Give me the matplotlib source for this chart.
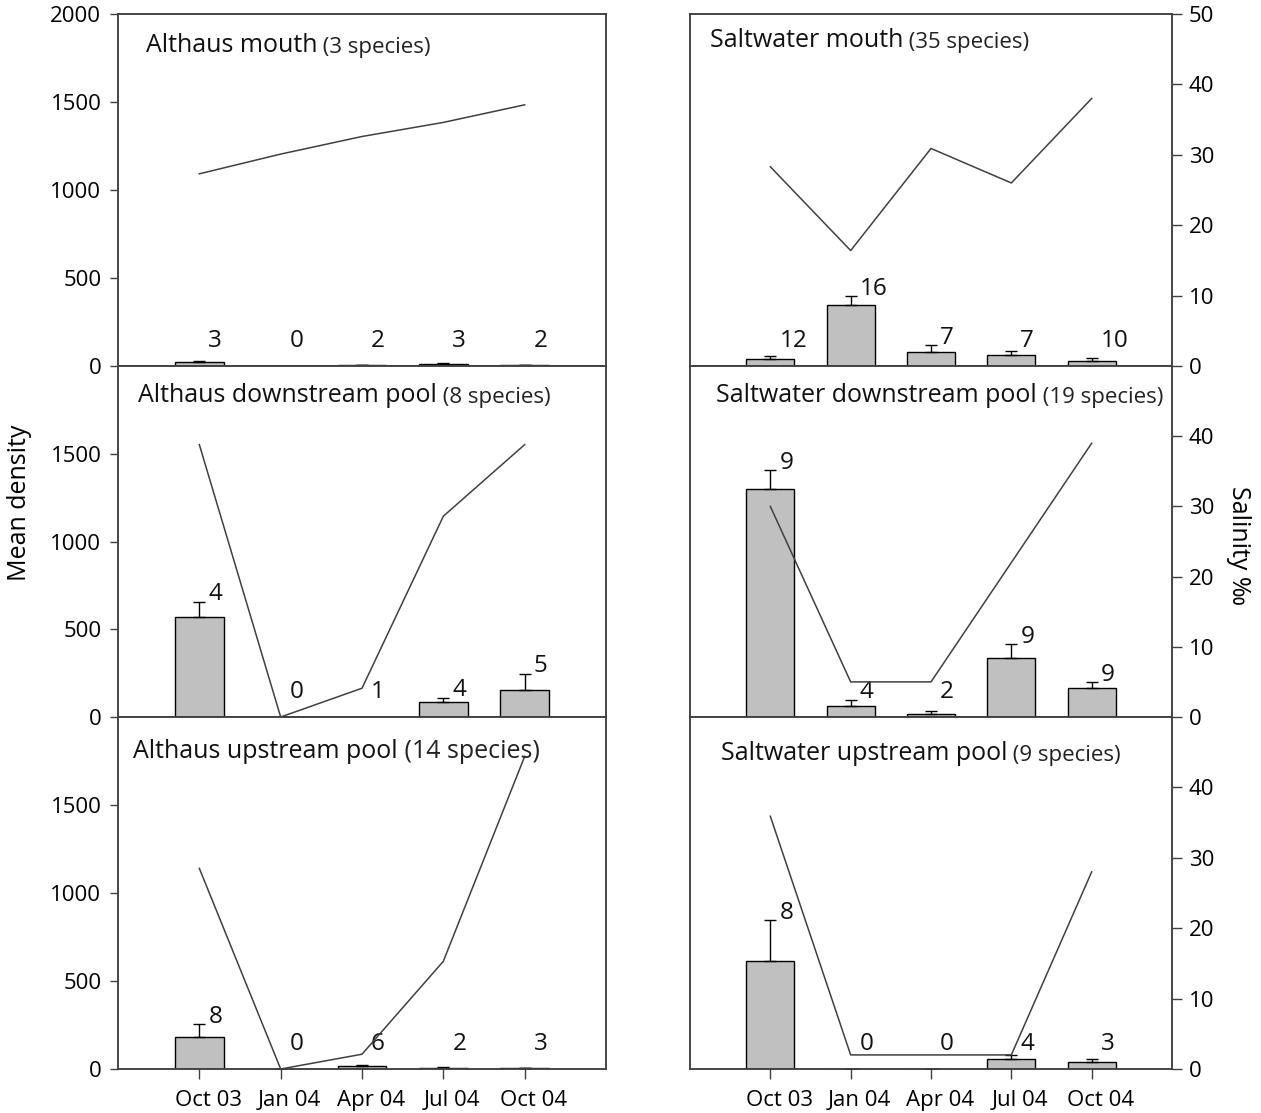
import matplotlib.pyplot as plt
from matplotlib.transforms import ScaledTranslation

plt.rcParams['font.family'] = ['Open Sans', 'DejaVu Sans']

months = ['Oct 03', 'Jan 04', 'Apr 04', 'Jul 04', 'Oct 04']

# mean density (bars), standard error, species count per sampling, salinity (line)
althaus_mouth_density = [25, 0, 4, 14, 4]
althaus_mouth_se = [3, 0, 3, 2, 3]
althaus_mouth_species = [3, 0, 2, 3, 2]
althaus_mouth_salinity = [27.3, 30.1, 32.6, 34.6, 37.1]

althaus_down_density = [570, 0, 0, 85, 156]
althaus_down_se = [87, 0, 0, 25, 91]
althaus_down_species = [4, 0, 1, 4, 5]
althaus_down_salinity = [38.8, 0.0, 4.1, 28.6, 38.8]

althaus_up_density = [182, 0, 17, 8, 6]
althaus_up_se = [72, 0, 8, 2, 2]
althaus_up_species = [8, 0, 6, 2, 3]
althaus_up_salinity = [28.5, 0.0, 2.1, 15.3, 44.4]

saltwater_mouth_density = [38, 345, 78, 64, 30]
saltwater_mouth_se = [19, 53, 40, 19, 14]
saltwater_mouth_species = [12, 16, 7, 7, 10]
saltwater_mouth_salinity = [28.3, 16.4, 30.9, 26.0, 38.0]

saltwater_down_density = [1299, 60, 15, 335, 164]
saltwater_down_se = [108, 35, 19, 81, 35]
saltwater_down_species = [9, 4, 2, 9, 9]
saltwater_down_salinity = [30.0, 5.0, 5.0, 22.0, 39.0]

saltwater_up_density = [616, 0, 0, 59, 40]
saltwater_up_se = [229, 0, 0, 21, 19]
saltwater_up_species = [8, 0, 0, 4, 3]
saltwater_up_salinity = [35.9, 2.0, 2.0, 2.0, 28.0]

# (row, col, title, bracket text, data...)
panels = [
    (0, 0, 'Althaus mouth', '(3 species)', althaus_mouth_density, althaus_mouth_se,
     althaus_mouth_species, althaus_mouth_salinity),
    (1, 0, 'Althaus downstream pool', '(8 species)', althaus_down_density, althaus_down_se,
     althaus_down_species, althaus_down_salinity),
    (2, 0, 'Althaus upstream pool', '(14 species)', althaus_up_density, althaus_up_se,
     althaus_up_species, althaus_up_salinity),
    (0, 1, 'Saltwater mouth', '(35 species)', saltwater_mouth_density, saltwater_mouth_se,
     saltwater_mouth_species, saltwater_mouth_salinity),
    (1, 1, 'Saltwater downstream pool', '(19 species)', saltwater_down_density, saltwater_down_se,
     saltwater_down_species, saltwater_down_salinity),
    (2, 1, 'Saltwater upstream pool', '(9 species)', saltwater_up_density, saltwater_up_se,
     saltwater_up_species, saltwater_up_salinity),
]

# title placement inside each panel (axes fraction) and bracket font size
title_pos = {(0, 0): (0.057, 0.892), (1, 0): (0.041, 0.897), (2, 0): (0.031, 0.884),
             (0, 1): (0.041, 0.906), (1, 1): (0.054, 0.897), (2, 1): (0.064, 0.878)}
bracket_size = {(2, 0): 18}

W, H = 1261, 1113
fig = plt.figure(figsize=(W / 100, H / 100), dpi=100)

col_x = [(118, 488), (690, 482)]
row_y = [(14, 366), (366, 717), (717, 1069)]
spine_col = '#404040'
x = list(range(len(months)))

for row, col, title, bracket, dens, se, spp, sal in panels:
    left, width = col_x[col]
    top, bottom = row_y[row]
    ax = fig.add_axes([left / W, 1 - bottom / H, width / W, (bottom - top) / H])
    ax2 = ax.twinx()

    ax.bar(x, dens, width=0.6, color='#c0c0c0', edgecolor='black', linewidth=1,
           yerr=[[0] * len(se), se], capsize=4.5,
           error_kw=dict(ecolor='black', elinewidth=1, capthick=1), zorder=2)
    ax2.plot(x, sal, color='#404040', lw=1.1)

    # number of species above each bar
    for i, n in enumerate(spp):
        y = max(dens[i] + se[i], 100)
        ax.annotate(str(n), xy=(i, y), xytext=(6.5, 1), textcoords='offset points',
                    ha='left', va='baseline', fontsize=17.5, color='#111111')

    ax.set_xlim(-1, 5)
    ax.set_ylim(0, 2000)
    ax2.set_ylim(0, 50)

    for a in (ax, ax2):
        for s in a.spines.values():
            s.set_color(spine_col)
            s.set_linewidth(1.1)

    if col == 0:
        ax.set_yticks([0, 500, 1000, 1500, 2000] if row == 0 else [0, 500, 1000, 1500])
        ax.tick_params(axis='y', direction='out', length=6, width=1, color=spine_col,
                       labelsize=16, pad=6)
        ax2.set_yticks([])
    else:
        ax.set_yticks([])
        ax2.set_yticks([0, 10, 20, 30, 40, 50] if row == 0 else [0, 10, 20, 30, 40])
        ax2.tick_params(axis='y', direction='out', length=7, width=1, color=spine_col,
                        labelsize=16, pad=5)

    if row == 2:
        ax.set_xticks(x)
        ax.set_xticklabels(months, fontsize=16)
        ax.tick_params(axis='x', direction='out', length=7, width=1, color=spine_col, pad=8)
        shift = ScaledTranslation(9 / 100, 0, fig.dpi_scale_trans)
        for lab in ax.get_xticklabels():
            lab.set_transform(lab.get_transform() + shift)
    else:
        ax.set_xticks([])

    tx, ty = title_pos[(row, col)]
    t1 = ax2.text(tx, ty, title, transform=ax.transAxes, fontsize=18, va='baseline',
                  color='#111111')
    ax2.annotate(' ' + bracket, xy=(1, 0), xycoords=t1, va='bottom', ha='left',
                 fontsize=bracket_size.get((row, col), 16), color='#222222')

fig.text(20 / W, 1 - 503 / H, 'Mean density', rotation=90, ha='center', va='center',
         fontsize=18)
fig.text(1238 / W, 1 - 546 / H, 'Salinity ‰', rotation=270, ha='center', va='center',
         fontsize=18)

fig.savefig('out.png', dpi=100)
